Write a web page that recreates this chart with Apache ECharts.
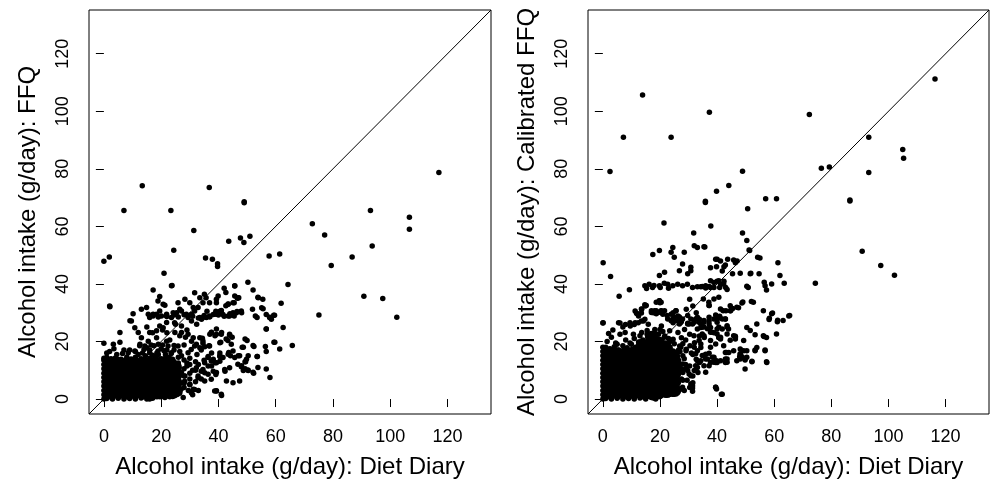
<!DOCTYPE html>
<html>
<head>
<meta charset="utf-8">
<script src="https://cdn.jsdelivr.net/npm/echarts@6/dist/echarts.min.js"></script>
<style>
  html, body { margin: 0; padding: 0; background: #fff; }
  #main { width: 990px; height: 484px; }
</style>
</head>
<body>
<div id="main"></div>
<script>
// axis settings shared by both panels (R style: 4% padding round 0..130)
var axisMin = -5.2;
var axisMax = 135.2;
var tickValues = [0, 20, 40, 60, 80, 100, 120];

// left panel: Diet Diary (x) vs FFQ (y)
// dense core of the cloud, drawn with big dots so the blob reads solid
var leftCore = [
  [2.2,2.1],[5.1,2.1],[8,2.1],[10.9,2.1],[13.8,2.1],[16.7,2.1],[19.6,2.1],[22.4,2.4],[25.2,2.8],
  [2.2,5],[5.1,5],[8,5],[10.9,5],[13.8,5],[16.7,5],[19.6,5],[22.4,5.2],[25.2,5.6],
  [2.2,7.9],[5.1,7.9],[8,7.9],[10.9,7.9],[13.8,7.9],[16.7,7.9],[19.6,7.9],[22.4,8.1],[25.2,8.4],
  [2.2,10.8],[5.1,10.8],[8,10.8],[10.9,10.8],[13.8,10.8],[16.7,10.8],[19.6,10.8],[22.4,10.6],[25,11],
  [2.2,12.4],[5.1,12.4],[8,12.4],[10.9,12.4],[13.8,12.4],[16.7,12.3],[19.6,12.4],[22.2,13.2]
];
var leftEdge = [
  [0,0],[0,1.5],[0,3],[0,4.5],[0,6],[0,7.5],[0,9],[0,10.5],[0,12],[0,13.5],[0,14.2],
  [1,0.2],[3,0],[5,0.3],[7,0],[9,0.2],[11,0],[13,0.4],[15,0],[16,0],[17,0.3],[18.5,0.8],
  [20,1.2],[22,1.5],[23,0.8],[24,2.1],[26.5,2.1],
  [1,14.5],[2.5,14],[4,14.3],[6,13.8],[8,14.6],[9.5,13.9],[11,14.5],[13,14],[14.5,15],
  [16,14.2],[18,14.6],[20,14],[22,14.4],[24,13.8],[26,14.5],[28,13.6],[30,14.2],[32,13],
  [29,11.5],[31,10],[27,9],[25.5,6],[28,5.5],[30,7],[27,3.5],[24.8,3.3],[31.7,3.3],
  [30.6,2.1],[20.1,2.7],[21.9,1.5],[17.8,0.9],[15.5,0.6],[28.2,6.2],[32.9,8],[34.6,10.3],
  [27.1,9.1],[33,12],[35,13.5],[26,12],[24.5,13],[29,12.5],
  [26,2.5],[26,5],[26,7.5],[26,10],[26,12.5],[28,4],[28,8],[28,10.5],[30,5],[30,9],
  [30,12],[31,1.5],[32,6],[32,10],[33,3],[34,7],[29.5,3],[24,0.9],
  [2,16.5],[4.5,15.5],[7,17],[13.5,16],[15,17.8],[17,15.2],[20,17.5],[21.5,15.5],
  [24.5,17],[26.5,16.5],[28,18.8],[30.5,17.2],[32.5,15.5],[19,19],[23,20.5],[28.5,21.5],
  [17,23],[20.5,24],[15,25],[25,26],[22,23],[29,24],[1,16],[3.5,17.5],[6.5,15.8],
  [9,17],[11,16.5],[12.5,18.5],
  [16,17],[17.5,18.5],[18.5,16],[20.5,18.8],[22,17],[23.5,15.8],[24.5,18.6],[19,15.5],
  [21,16.8],[16.5,18.8],[12,15.5],[14,17.2]
];
var leftMid = [
  [17.2,29.5],[19.5,30.6],[21.9,28.9],[24.2,30],[26.5,31.2],[28.8,29.5],[31.2,31.8],
  [20.7,32.9],[25.9,33.5],[30,33.5],[36.9,28.9],[39.3,29.5],[41,30.6],[43.9,28.9],
  [46.3,30],[48,30.6],[43.4,32.9],[45.1,33.5],[39.3,33.5],
  [20.7,24.8],[24.7,26.5],[27.1,23.1],[29.4,22.5],[16,23.1],[18.4,23.7],[31.2,21.3],
  [33.5,21.3],[34.6,20.2],[32.3,19],[37.5,23.1],[39.3,22.5],[41,22.5],[43.9,22.5],
  [40.5,19.6],[44.5,19],[36.9,18.4],[45.1,16.7],[47.4,15],[43.4,15.6],[40.5,15],[46.8,12.1],
  [36.4,14.4],[37.5,13.2],[39.3,12.6],[41.6,14.4],[42.2,10.3],[43.9,10.9],[39.3,9.2],
  [36.4,8.6],[35.2,6.3],[37.5,6.9],[42.8,6.3],[45.1,5.7],[47.4,6.3],[38.7,2.8],[41,1.7],
  [31.2,3.4],[30,5.1],[28.3,8],[32.3,10.9],[32.9,7.4],[26.5,2.8],[27.7,0.5],[23,1.7],
  [24.7,1.1],[21.3,0.5],[49.8,13.8],[45.7,14.4]
];
var leftCloud = [
  [21,43.7],[23.8,39.5],[2.1,32.1],[17.2,37.9],[19.5,35.6],[18.9,34.1],[21.3,32.6],
  [14.9,31.8],[13.1,31.2],[15.5,29.5],[17.2,28.9],[18.4,29.5],[20.1,28.9],[21.9,29.5],
  [23.6,28.3],[25.4,30],[27.1,30.6],[28.3,34.7],[31.7,36.9],[33.5,35.2],[34.6,33.5],
  [32.9,31.8],[31.7,30.6],[30.6,29.5],[29.4,28.3],[19.5,25.4],[21.9,26.6],[27.1,25.4],
  [30.6,27.1],[32.4,26],[34.1,27.7],[9.6,27.1],[10.8,24.8],[12,23.1],[13.1,21.3],
  [5.6,23.1],[5.6,19.7],[3.3,19],[0,19.4],[12.6,19],[14.3,18.4],[15.5,20.1],[18.4,21.3],
  [21.9,20.1],[24.8,23.1],[26.5,22],[22.4,18.4],[25.9,18.4],[30.6,20.1],[31.7,18.4],
  [33.5,17.8],[8.5,16.1],[10.8,16.7],[16,16.1],[18.9,16.7],[23.6,16.1],[27.1,15],[29.4,16.1],
  [16,28.3],[19,28.5],[22,28.7],[24.5,29.2],[26,28.5],[28,29.3],[31,28.8],[33,28.2],
  [35,29],[37,28.6],[38.5,29.5],[40,29.2],[42,28.8],[44,29.6],[45.5,28.9],[46.5,30.4],
  [36,30.5],[41,30.8],[9.1,27.2],[10.2,29.6],
  [42,38.5],[42.6,37],[45.7,39.3],[47.1,35.2],[45.5,33.5],[53.9,35.2],[55.5,34.7],
  [51.9,31.2],[55.6,31.4],[56.7,29.4],[57.9,28.3],[58.5,27.7],[59.6,29.1],[52.9,28.9],
  [53.5,28.3],[48.1,30],[45.1,30],[43.4,28.9],[41.6,29.4],[40.5,30.5],[39.9,30],
  [39.1,30.5],[38.2,29.4],[36.9,28.6],[35.8,28.3],[34.6,28.3],[33.5,28.3],[42.6,32.4],
  [43.4,33],[45.7,35.8],[46.9,35.2],[56.7,24.3],[65.8,18.6],[61.4,17.4],[59.7,19.7],
  [56.7,16.5],[56.7,10.4],[53.8,11],[52.3,9],[50.4,9.9],[49.3,10.5],[48.7,9.9],[48.1,11.6],
  [49.3,13],[50.4,15],[53.6,14.8],[52.1,18.6],[48.7,18],[49.3,20.9],[46.9,15],[44.2,15],
  [43.6,16.2],[43.9,22.2],[44.8,21.5],[42.7,20.9],[43.3,20.3],[40.8,19.7],[40.5,16],
  [40.5,14.8],[40.5,13.1],[42.3,9.7],[41.1,23.1],[39.3,24.3],[38.8,22],[37.6,23.2],
  [37,22.5],[34.4,21.1],[34.6,19.4],[35.2,18.2],[34,17],[36.7,18.5],[37.6,16],[36.4,14.8],
  [38.2,13.8],[38.8,12.6],[35.2,12.6],[36.4,11.5],[37.6,11.5],[34,9.7],[35.2,9.1],
  [38.2,9.7],[39.1,8.5],[39.3,2.8],[36.9,33.5],[39.3,34.7],[39.9,35.8],[35.1,36.4],[35.7,35.2]
];
var leftOutliers = [
  [117,78.7],[106.7,63.2],[106.7,59],[93.1,65.5],[93.7,53.2],[86.7,49.4],[79.4,46.4],
  [77.1,57],[72.8,60.9],[75.1,29.2],[90.8,35.7],[97.4,34.9],[102.3,28.4],[61.4,50.4],
  [57.7,49.7],[49,68.2],[49,68.6],[51,56.6],[47.7,56],[48.9,54.4],[43.6,54.8],[36.8,73.5],
  [13.4,74.1],[7,65.5],[23.4,65.5],[31.4,58.6],[24.4,51.7],[35.5,49],[37.9,48.6],
  [39.7,47],[39.7,46.1],[0,47.9],[1.9,49.4],[2,32.3],[23.6,39.4],[50.3,40.6],[52.1,37.9],
  [45.7,39.4],[46.6,35],[53.8,35.4],[64.3,39.8],[50,20.3],[52.4,18.3],[48.3,18],[53.5,14.8],
  [49.5,13],[50.3,10.1],[52.1,9.3],[48,11.2],[39.3,2.9],[41.1,1.2],[62.6,24.9],[61.9,33.3],
  [59.4,19.7],[58,7.5],[56.4,18.3],[56.7,24.3],[57.9,28.4],[59.3,29.1],[55.1,31.7]
];

// right panel: Diet Diary (x) vs Calibrated FFQ (y)
var rightCore = [
  [2.2,2.1],[5.1,2.1],[8,2.1],[10.9,2.1],[13.8,2.1],[16.7,2.1],[19.6,2.1],[22.4,2.6],[25.2,3],
  [2.2,5],[5.1,5],[8,5],[10.9,5],[13.8,5],[16.7,5],[19.6,5],[22.4,5.3],[25.2,6],
  [2.2,7.9],[5.1,7.9],[8,7.9],[10.9,7.9],[13.8,7.9],[16.7,7.9],[19.6,7.9],[22.4,8.2],[25.2,9],
  [2.2,10.8],[5.1,10.8],[8,10.8],[10.9,10.8],[13.8,10.8],[16.7,10.8],[19.6,10.8],[22.4,11],[25.2,12],
  [2.2,13.7],[5.1,13.7],[8,13.7],[10.9,13.7],[13.8,13.7],[16.7,13.7],[19.6,13.7],[22.2,13.9],[24.8,15],
  [2.2,16],[5.1,15.7],[8,16],[10.9,16.2],[13.8,16.4],[16.7,16.6],[19.6,16.8],[22.2,17.5],
  [13.8,18.8],[16.7,19.2],[19.6,19.5],[17,21.5]
];
var rightEdge = [
  [0,0],[0,1.5],[0,3],[0,4.5],[0,6],[0,7.5],[0,9],[0,10.5],[0,12],[0,13.5],[0,15],
  [0,16.5],[0,18],
  [1,18],[2.5,17.5],[4,18.2],[5.5,17],[7,18.5],[8.5,17.8],[10,19],[11.5,18],[13,19.5],
  [14.5,18.5],[16,20],[17.5,19],[19,20.5],[20.5,18.8],[22,19.5],[23.5,18],[25,19.2],
  [24,2],[25,4],[24.5,6.5],[26,8.5],[25.2,11],[26.5,13.5],[25,15.5],[27.5,10.5],[28,6.5],
  [29,12],[27,16.5],[28.5,3],
  [1,0.2],[3,0],[5,0.3],[7,0],[9,0.2],[11,0],[13,0.4],[15,0],[17,0.5],[18.5,0],[20,1],
  [22,1.4],[17.7,0.4],[21.1,1.6],[24,2.2],[26.9,3.4],
  [23,4],[23.5,10],[23,13.5],[24.5,15],[22.5,16],[25.5,9],[26,14.5],[27.5,7],[27,12],
  [29,10.5],[26.5,17],[28.5,14],[29.5,6.5],[24,11.8],[22.5,7],
  [1.5,20],[3,21.5],[4.5,19.5],[6,22.5],[8,20.5],[3.5,24],[9.5,19.5],[11,21],[12.5,19.8],
  [14,20.5],[15.5,22.5],[17,19.5],[19.5,20.5],[21,23.5],[23,21],[2,22.8],[7,25],[5,19],
  [15.5,23.8],[18,23],[19.5,22.5],[21.5,21.5],[23.5,20],[13,22],[20,24.2]
];
var rightMid = [
  [19.8,34.2],[18.7,29.6],[17,30.7],[20.4,30.1],[21.6,30.7],[25.6,30.7],[26.8,28.5],
  [24.5,27.8],[22.7,27.8],[27.3,26.7],[30.2,26.1],[32.5,27.8],[33.7,26.7],[37.2,32.5],
  [38.9,34.8],[41.2,31.3],[45.2,31.3],[42.9,27.8],[40,26.7],[37.7,24.9],[41.8,24.3],
  [43.5,25.5],[45.8,22],[46.4,20.9],[40.6,21.4],[37.7,23.2],[35.4,22],[33.7,20.3],
  [31.9,22],[33.1,16.8],[34.8,15.1],[36,13.9],[38.3,14.5],[39.5,12.7],[42.9,16.2],
  [48.1,17.4],[48.7,14.5],[36,9.3],[33.1,11],[30.8,8.1],[31.4,4.6],[27.9,4.1],[26.2,2.9],
  [24.5,1.7],[39.5,4.1],[41.8,1.7],[49.8,10.4],[29,20.5],[30.5,18.5],[28,19.2],[31,16]
];
var rightCloud = [
  [11.3,30.6],[13.6,31.2],[14.8,32.3],[12.5,28.9],[17.7,30],[20.5,30.6],[20,33.5],
  [24.6,30],[26.3,28.9],[24.6,26.5],[27.5,27.1],[29.2,31.2],[30.4,34.7],[31.5,32.3],
  [32.7,30],[33.8,27.7],[28.6,24.2],[26.3,23.1],[23.4,23.7],[20.5,25.4],[18.2,24.2],
  [15.9,26],[14.2,27.1],[11.3,26.5],[9.6,25.4],[7.8,23.1],[10.7,22.5],[13.6,23.1],
  [16.5,21.9],[18.8,22.5],[21.7,21.9],[24.6,20.8],[27.5,21.3],[30.4,22.5],[32.1,19.6],
  [33.8,21.9],[26.9,18.4],[29.2,17.3],[31.5,15.5],[32.7,13.8],[33.8,12.7],[30.4,11.5],
  [28,9.2],[25.7,5.7],[23.4,8],[25.7,12.7],[28,15],[24.6,16.7],[22.3,17.3],[31.5,5.7],
  [30.4,4],[31.5,8],[33.3,9.2],
  [0.1,26.5],[5.5,26.5],[7.9,25.9],[9.5,26.5],[11,25.9],[12.4,26.5],[13.5,27.1],
  [14.7,27.7],[11.8,29.8],[13.5,31.3],[15.2,32.5],[17,30.1],[18.1,30.7],[19.8,34.2],
  [20.4,30.7],[21,29.5],[22.5,29],[23.9,29.5],[25.6,30.7],[25.9,27.2],[24.5,27.2],
  [26.8,26.1],[27.9,27.8],[29.7,26.1],[29.7,29],[30.8,27.8],[32,26.7],[33.1,28.4],
  [17.5,50.2],[19.8,51.6],[23.9,51],[24.5,52.7],[25,49.3],[28.5,51],[27.9,46.9],
  [30.8,45.8],[32,53.3],[33.1,52.7],[35.4,52.9],[19.8,42.9],[21.6,44.1],[29.7,43.5],
  [26.8,44.6],[30.8,44.6],
  [14.7,39.4],[16.2,39.9],[17.9,39.5],[19.8,39.4],[21.5,40.2],[22.7,39.9],[24.5,39.4],
  [26.2,39.9],[27.9,39.4],[29.6,39.9],[31.4,38.8],[33.1,39],[34.3,39],[36,39.4],
  [37.7,38.8],[15.3,38.4],[17.4,38.8],[20.1,38.8],[23,38.5],
  [18.7,33.6],[20.4,33.6],[19.3,30.1],[14.7,32.8],[12,29.6],[13.5,29.9],[18.7,30.7],
  [25,28.4],[23.9,27.2],[27.3,26.7],[29.7,26.3],[31.4,26.1],[33.1,24.3],[34.3,24.9],
  [35.4,26.7],[37.2,27.2],[38.9,27.8],[40.3,28.2],[41.8,27.8],[42.1,30.7],[44.7,30.7],
  [40,24.3],[38.9,23],[44,24.3],[35.5,21.4],[34.3,19.1],[37.7,18],[39.5,19.1],[40.6,21.4],
  [41.2,20.9],[46.4,21.4],[44.1,16.2],[42.9,13.9],[43.5,12.8],[38.9,12.8],[39.8,13.3],
  [35.4,15.1],[36.6,13.9],[37.2,11.6],[33.1,13.3],[32.5,11.6],[32,9.9],[39.5,4.1],
  [41.5,1.7],[30.8,5.2],[31.4,3.8],[31.4,2.7],[27.3,3.5],[23.9,2.3],[24.5,1.7],[19.8,2.9],
  [21,3.5],[21.6,2.9],[17.5,0.6],[26.2,11.6],[27.9,12.2],[29.7,9.9],[30.2,8.7],[27.3,18],
  [29.1,16.8],[32,18],[32.5,15.7],
  [35.7,52.8],[51.4,51.6],[41.2,39.8],[42.4,40.9],[43,38.8],[43.5,38.1],[40,40.9],
  [40.6,41.1],[40.9,38.8],[38.9,40.5],[37.2,39.1],[36,38.6],[34.8,39.1],[37.7,41.1],
  [35.2,34.8],[40.6,35.4],[37.2,32.5],[45.4,43.5],[48.1,43.7],[51.8,43.7],[45.8,48.3],
  [46.4,47.4],[47,48],[43.7,48.6],[41.2,48],[40,48.6],[39.8,46],[37.7,45.6],[42.4,46],
  [41.8,44.5],[42.9,46.6],[39.5,48.6],[49,33.7],[45.4,31.5],[44.6,32.4],[43.1,30.7],
  [40.9,28.8],[40.6,28.2],[39.5,29.2],[37.2,28.4],[35.4,27.3],[34.8,25],[37.2,26.1],
  [36.6,24.4],[40.6,25],[43.5,25],[38.3,23.2],[34.8,22.6],[41.2,21.5],[44.6,20.4],
  [46.4,21.8],[56.4,21.7],[58.3,28.1],[61.2,27.4],[34.3,17.9],[36,15.6],[37.2,15.9],
  [38.9,14.5],[40,12.7],[41.2,13.3],[42.9,12.7],[43.5,13.9],[37.7,12.7],[35.4,11.6],
  [34.3,13.3],[43.3,16.2],[48.1,15.6],[49.3,16.8],[49.8,13.9],[53.3,16.8],[56.8,16.8],
  [52.2,13.1],[57.4,12.7],[48.1,13.9],[48.7,14.7],[39.8,3.5],[34.3,26.1],[35.4,25],
  [37.1,33.6],[42.3,40],[38.9,38.8],[42.9,27.8],[44.6,30.7],[46.9,31.9],[50.4,24.9],
  [51.6,23.8],[53.9,26.1],[49.3,20.3],[45.8,16.8],[42.3,18.5],[43.5,22.6],[40,22.6],
  [37.7,20.3],[46.9,13.3],[50.4,16.8],[53.9,17.9],[57.3,21.4],[60.8,22.6],[56.2,30.7],
  [52.7,33.6],[59.1,29.6],[63.1,27.3],[65.4,29]
];
var rightOutliers = [
  [116.3,111.2],[105,86.7],[105.3,83.7],[93.1,91],[93.1,78.7],[79.3,80.6],[76.5,80.2],
  [72.3,98.9],[86.5,69.2],[86.5,68.8],[90.8,51.4],[97.3,46.4],[102.1,43],[74.4,40.2],
  [65.1,28.9],[60.8,69.6],[57,69.6],[61.3,47.4],[62,42.9],[63.5,40.2],[59.1,40],[57.3,37.9],
  [56.5,40.6],[56.8,39.4],[59.4,29.9],[58.2,27.6],[61.1,26.9],[56.2,22],[56.8,17],[57.3,13],
  [53.3,22.3],[53.3,17],[52.2,13],[50.4,14.5],[49.8,13.6],[48.1,15.7],[47.9,14.7],[52,33.9],
  [48.7,33.4],[47.5,31.7],[51.6,43.5],[54.7,43.5],[50.4,39.2],[50.9,38.8],[54.2,49.3],
  [55,49],[51.2,51.8],[50.4,55.1],[50.7,66.1],[48.9,79.2],[48.9,57.7],[44.1,74.2],
  [39.8,72.2],[35.9,68.3],[35.9,68.7],[37.8,60.1],[31.8,57.7],[21.4,61.2],[23.9,91],
  [13.9,105.7],[37.3,99.7],[7.2,91],[2.5,79.1],[2.7,42.6],[0.1,47.4],[5.7,35.7],[9.3,38],
  [0,26.4],[6,26.4]
];

var identityLine = [[axisMin, axisMin], [axisMax, axisMax]];

var fontName = 'Liberation Sans, Arial, sans-serif';

function makeX(idx) {
  return {
    type: 'value', gridIndex: idx, min: axisMin, max: axisMax,
    axisLine: { show: false },
    splitLine: { show: false },
    axisTick: { show: true, length: 8, customValues: tickValues, lineStyle: { color: '#000', width: 1 } },
    axisLabel: { customValues: tickValues, fontSize: 18, margin: 14, fontFamily: fontName, color: '#000' },
    name: 'Alcohol intake (g/day): Diet Diary',
    nameLocation: 'middle', nameGap: 41,
    nameTextStyle: { fontSize: 24, fontFamily: fontName, color: '#000' }
  };
}
function makeY(idx, title) {
  return {
    type: 'value', gridIndex: idx, min: axisMin, max: axisMax,
    axisLine: { show: false },
    splitLine: { show: false },
    axisTick: { show: true, length: 8, customValues: tickValues, lineStyle: { color: '#000', width: 1 } },
    axisLabel: { customValues: tickValues, fontSize: 18, margin: 17, rotate: 90, fontFamily: fontName, color: '#000' },
    name: title,
    nameLocation: 'middle', nameGap: 49,
    nameTextStyle: { fontSize: 24, fontFamily: fontName, color: '#000' }
  };
}
function dots(idx, data, size) {
  return {
    type: 'scatter', xAxisIndex: idx, yAxisIndex: idx, data: data,
    symbol: 'circle', symbolSize: size, silent: true,
    itemStyle: { color: '#000', opacity: 1 }
  };
}
function diag(idx) {
  return {
    type: 'line', xAxisIndex: idx, yAxisIndex: idx, data: identityLine,
    symbol: 'none', silent: true, clip: true,
    lineStyle: { color: '#000', width: 1 }
  };
}

var chart = echarts.init(document.getElementById('main'));
chart.setOption({
  animation: false,
  backgroundColor: '#fff',
  grid: [
    { left: 89, top: 10, width: 402, height: 404, show: true, borderColor: '#000', borderWidth: 1, backgroundColor: 'transparent', containLabel: false, outerBoundsMode: 'none' },
    { left: 588, top: 10, width: 401, height: 404, show: true, borderColor: '#000', borderWidth: 1, backgroundColor: 'transparent', containLabel: false, outerBoundsMode: 'none' }
  ],
  xAxis: [makeX(0), makeX(1)],
  yAxis: [makeY(0, 'Alcohol intake (g/day): FFQ'), makeY(1, 'Alcohol intake (g/day): Calibrated FFQ')],
  series: [
    diag(0),
    dots(0, leftCore, 13),
    dots(0, leftEdge, 5.5),
    dots(0, leftMid, 5.5),
    dots(0, leftCloud, 5.5),
    dots(0, leftOutliers, 5.5),
    diag(1),
    dots(1, rightCore, 13),
    dots(1, rightEdge, 5.5),
    dots(1, rightMid, 5.5),
    dots(1, rightCloud, 5.5),
    dots(1, rightOutliers, 5.5)
  ]
});
</script>
</body>
</html>
